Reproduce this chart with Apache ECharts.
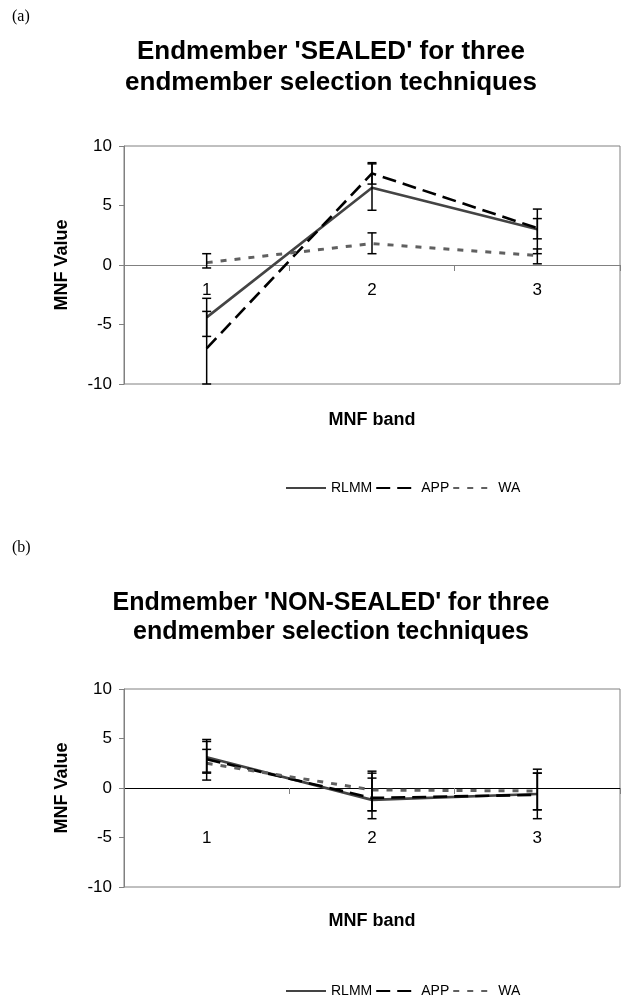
<!DOCTYPE html>
<html><head><meta charset="utf-8">
<script src="https://cdn.jsdelivr.net/npm/echarts@6/dist/echarts.min.js"></script>
<style>html,body{margin:0;padding:0;background:#fff}#c{width:623px;height:1001px}</style>
</head><body><div id="c"></div>
<script>
const categories = ['1', '2', '3'];
const seriesNames = ['RLMM', 'APP', 'WA'];
const yTicks = [-10, -5, 0, 5, 10];

// (a) Endmember 'SEALED'
const sealedRLMM = [-4.4, 6.5, 3.0];
const sealedAPP = [-7.0, 7.7, 3.1];
const sealedWA = [0.2, 1.8, 0.8];
const sealedRLMMLow = [-6.0, 4.6, 2.2];
const sealedRLMMHigh = [-2.8, 8.5, 3.9];
const sealedAPPLow = [-10.0, 6.8, 0.95];
const sealedAPPHigh = [-3.9, 8.6, 4.7];
const sealedWALow = [-0.25, 0.95, 0.1];
const sealedWAHigh = [0.95, 2.7, 1.35];

// (b) Endmember 'NON-SEALED'
const nonRLMM = [3.1, -1.2, -0.6];
const nonAPP = [2.9, -1.0, -0.7];
const nonWA = [2.5, -0.2, -0.3];
const nonRLMMLow = [1.5, -3.1, -3.1];
const nonRLMMHigh = [4.7, 1.7, 1.9];
const nonAPPLow = [0.8, -2.3, -2.2];
const nonAPPHigh = [4.9, 1.5, 1.5];
const nonWALow = [1.6, -2.3, -2.2];
const nonWAHigh = [3.9, 1.0, 1.5];

const FONT = "'Liberation Sans', Arial, sans-serif";
const SERIF = "'Liberation Serif', 'Times New Roman', serif";

const styles = {
  RLMM: { color: '#444444', width: 2.6, type: 'solid' },
  APP: { color: '#000000', width: 2.6, type: [14, 7] },
  WA: { color: '#606060', width: 3, type: [6, 8] }
};

function lineSeries(name, data, idx) {
  const s = styles[name];
  return {
    type: 'line', name: name, data: data, xAxisIndex: idx, yAxisIndex: idx,
    symbol: 'none', smooth: false, silent: true, z: 3,
    lineStyle: { color: s.color, width: s.width, type: s.type, cap: 'butt' },
    itemStyle: { color: s.color }
  };
}

function errorSeries(low, high, idx) {
  return {
    type: 'custom', xAxisIndex: idx, yAxisIndex: idx, silent: true, z: 5,
    data: categories.map((c, i) => [i, low[i], high[i]]),
    encode: { x: 0, y: [1, 2] },
    renderItem: function (params, api) {
      const x = api.value(0);
      const lo = api.coord([x, api.value(1)]);
      const hi = api.coord([x, api.value(2)]);
      const hw = 4.5;
      const st = { stroke: '#000', lineWidth: 1.5 };
      return {
        type: 'group', children: [
          { type: 'line', shape: { x1: lo[0], y1: lo[1], x2: hi[0], y2: hi[1] }, style: st },
          { type: 'line', shape: { x1: lo[0] - hw, y1: lo[1], x2: lo[0] + hw, y2: lo[1] }, style: st },
          { type: 'line', shape: { x1: hi[0] - hw, y1: hi[1], x2: hi[0] + hw, y2: hi[1] }, style: st }
        ]
      };
    }
  };
}

function xAxis(idx, zeroColor, labelMargin) {
  return {
    type: 'category', gridIndex: idx, data: categories, boundaryGap: true,
    axisLine: { show: true, onZero: true, lineStyle: { color: zeroColor, width: 1 } },
    axisTick: { show: true, length: 6, lineStyle: { color: '#808080' } },
    axisLabel: { color: '#000', fontSize: 17, fontFamily: FONT, margin: labelMargin },
    splitLine: { show: false }
  };
}

function yAxis(idx) {
  return {
    type: 'value', gridIndex: idx, min: yTicks[0], max: yTicks[yTicks.length - 1], interval: 5,
    axisLine: { show: true, lineStyle: { color: '#808080', width: 1 } },
    axisTick: { show: true, length: 5, lineStyle: { color: '#808080' } },
    axisLabel: { color: '#000', fontSize: 17, fontFamily: FONT, margin: 12 },
    splitLine: { show: false },
    name: 'MNF Value', nameLocation: 'middle', nameGap: 53,
    nameTextStyle: { color: '#000', fontSize: 18, fontWeight: 'bold', fontFamily: FONT }
  };
}

const chart = echarts.init(document.getElementById('c'), null, { renderer: 'canvas' });
chart.setOption({
  backgroundColor: '#fff',
  animation: false,
  title: [
    { text: "Endmember 'SEALED' for three\nendmember selection techniques", left: 326, top: 31, textAlign: 'center',
      textStyle: { fontSize: 26, fontWeight: 'bold', fontFamily: FONT, color: '#000', lineHeight: 31 } },
    { text: "Endmember 'NON-SEALED' for three\nendmember selection techniques", left: 326, top: 584, textAlign: 'center',
      textStyle: { fontSize: 25, fontWeight: 'bold', fontFamily: FONT, color: '#000', lineHeight: 29 } }
  ],
  graphic: [
    { type: 'text', left: 12, top: 9, style: { text: '(a)', font: '16px ' + SERIF, fill: '#000' } },
    { type: 'text', left: 12, top: 540, style: { text: '(b)', font: '16px ' + SERIF, fill: '#000' } },
    { type: 'text', x: 372, y: 420, style: { text: 'MNF band', font: 'bold 18px ' + FONT, fill: '#000', align: 'center', verticalAlign: 'middle', textAlign: 'center', textVerticalAlign: 'middle' } },
    { type: 'text', x: 372, y: 921, style: { text: 'MNF band', font: 'bold 18px ' + FONT, fill: '#000', align: 'center', verticalAlign: 'middle', textAlign: 'center', textVerticalAlign: 'middle' } }
  ],
  legend: [
    { top: 476, left: 280, data: seriesNames, itemWidth: 40, itemHeight: 12, itemGap: 3,
      itemStyle: { opacity: 0 },
      textStyle: { fontSize: 14, fontFamily: FONT, color: '#000' }, selectedMode: false },
    { top: 979, left: 280, data: seriesNames, itemWidth: 40, itemHeight: 12, itemGap: 3,
      itemStyle: { opacity: 0 },
      textStyle: { fontSize: 14, fontFamily: FONT, color: '#000' }, selectedMode: false }
  ],
  grid: [
    { left: 124, top: 146, width: 496, height: 238, show: true, borderColor: '#808080', borderWidth: 1, backgroundColor: 'transparent' },
    { left: 124, top: 689, width: 496, height: 198, show: true, borderColor: '#808080', borderWidth: 1, backgroundColor: 'transparent' }
  ],
  xAxis: [xAxis(0, '#808080', -102), xAxis(1, '#000000', -57)],
  yAxis: [yAxis(0), yAxis(1)],
  series: [
    lineSeries('RLMM', sealedRLMM, 0),
    lineSeries('APP', sealedAPP, 0),
    lineSeries('WA', sealedWA, 0),
    errorSeries(sealedRLMMLow, sealedRLMMHigh, 0),
    errorSeries(sealedAPPLow, sealedAPPHigh, 0),
    errorSeries(sealedWALow, sealedWAHigh, 0),
    lineSeries('RLMM', nonRLMM, 1),
    lineSeries('APP', nonAPP, 1),
    lineSeries('WA', nonWA, 1),
    errorSeries(nonRLMMLow, nonRLMMHigh, 1),
    errorSeries(nonAPPLow, nonAPPHigh, 1),
    errorSeries(nonWALow, nonWAHigh, 1)
  ]
});
</script>
</body></html>
